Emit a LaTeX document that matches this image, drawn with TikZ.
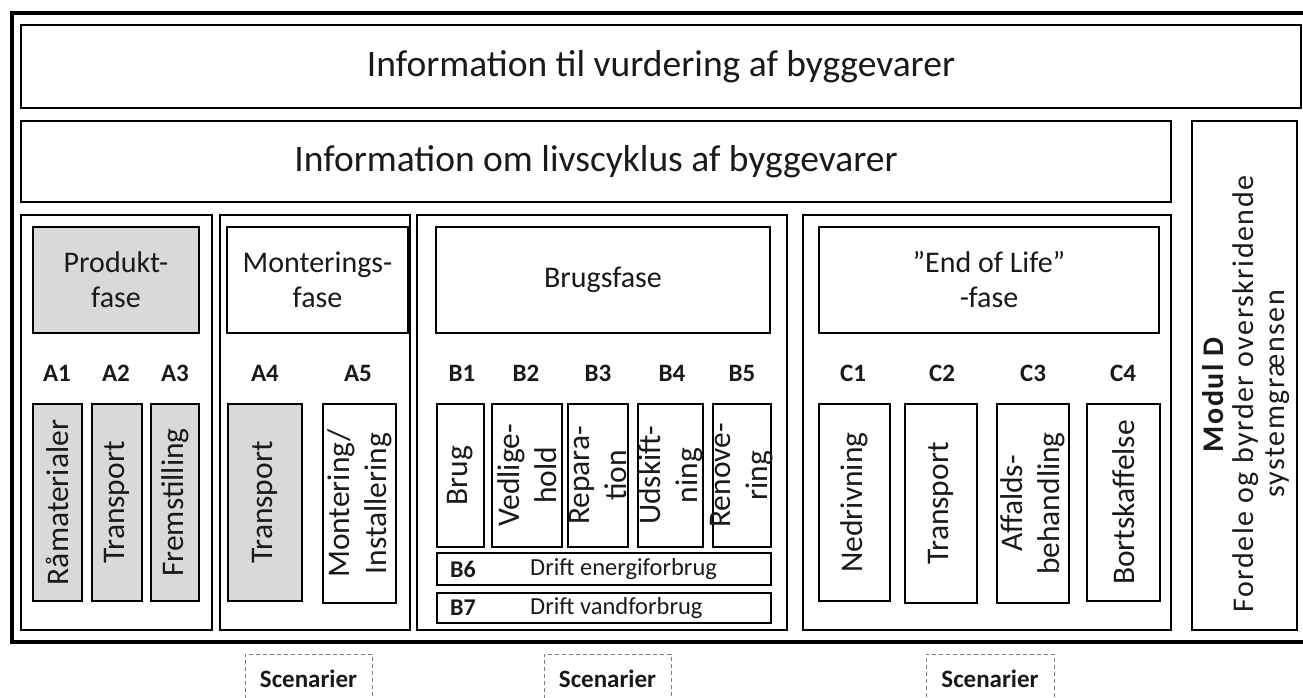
\documentclass[tikz,border=0pt]{standalone}
\usepackage{fontspec}
\setmainfont{Carlito}
\definecolor{boxgray}{HTML}{D9D9D9}
\definecolor{txt}{HTML}{1A1A1A}
\definecolor{dashgray}{HTML}{7F7F7F}
\newcommand{\mkbox}[6]{\node[#6, minimum width={(#4)-(#2)}, minimum height={(#5)-(#3)}] (#1) at ({((#2)+(#4))/2},{-((#3)+(#5))/2}) {};}
\tikzset{
  bx/.style={draw, line width=2pt, inner sep=0pt},
  gbx/.style={bx, fill=boxgray},
  frame/.style={draw, line width=4pt},
  titletxt/.style={font=\fontsize{37.5}{44}\selectfont, text=txt, inner sep=0pt},
  htxt/.style={font=\fontsize{30}{35}\selectfont, align=center, text=txt, inner sep=0pt},
  lbl/.style={font=\fontsize{25}{29}\selectfont\bfseries, text=txt, inner sep=0pt},
  vtxt/.style={rotate=90, align=center, font=\fontsize{31.5}{37}\selectfont, text=txt, inner sep=0pt},
  btxt/.style={font=\fontsize{24.5}{29}\selectfont, text=txt, inner sep=0pt, anchor=west},
  blbl/.style={font=\fontsize{24}{29}\selectfont\bfseries, text=txt, inner sep=0pt},
  dtxt/.style={rotate=90, align=center, font=\fontsize{30}{30.5}\selectfont\addfontfeature{LetterSpace=5}, text=txt, inner sep=0pt},
  scen/.style={draw=dashgray, line width=1pt, dash pattern=on 4pt off 3pt, inner sep=0pt},
  scentxt/.style={font=\fontsize{25}{29}\selectfont\bfseries, text=txt, inner sep=0pt}
}
\begin{document}
\begin{tikzpicture}[x=1pt,y=1pt]
\useasboundingbox (0,0) rectangle (1303,-698);
\clip (0,0) rectangle (1303,-698);
\fill[white] (0,0) rectangle (1303,-698);
% outer frame
\mkbox{outer}{12}{13}{1312}{642}{frame}
% title boxes
\mkbox{top}{21}{25}{1301}{108}{bx}
\node[titletxt] (toptxt) at (top) {Information til vurdering af byggevarer};
\mkbox{life}{21}{121}{1171}{202}{bx}
\node[titletxt] (lifetxt) at (life) {Information om livscyklus af byggevarer};
% Modul D
\mkbox{modd}{1192}{121}{1297}{630}{bx}
\node[dtxt] (moddtxt) at (1246,-394) {\textbf{Modul D}\\Fordele og byrder overskridende\\systemgrænsen};
% phase boxes
\mkbox{pa}{21}{215}{212}{630}{bx}
\mkbox{pm}{220}{215}{410}{630}{bx}
\mkbox{pb}{417}{215}{787}{630}{bx}
\mkbox{pc}{803}{215}{1171}{630}{bx}
% headers
\mkbox{hprod}{33}{227}{199}{333}{gbx}
\node[htxt] (hprodtxt) at (hprod) {Produkt-\\fase};
\mkbox{hmont}{227}{227}{408}{333}{bx}
\node[htxt] (hmonttxt) at (hmont) {Monterings-\\fase};
\mkbox{hbrug}{436}{227}{770}{333}{bx}
\node[htxt] (hbrugtxt) at (hbrug) {Brugsfase};
\mkbox{heol}{819}{227}{1159}{333}{bx}
\node[htxt] (heoltxt) at (heol) {”End of Life”\\-fase};
% module labels
\node[lbl] (la1) at (57,-373) {A1};
\node[lbl] (la2) at (116,-373) {A2};
\node[lbl] (la3) at (175,-373) {A3};
\node[lbl] (la4) at (265,-373) {A4};
\node[lbl] (la5) at (358,-373) {A5};
\node[lbl] (lb1) at (462,-373) {B1};
\node[lbl] (lb2) at (526,-373) {B2};
\node[lbl] (lb3) at (598,-373) {B3};
\node[lbl] (lb4) at (672,-373) {B4};
\node[lbl] (lb5) at (742,-373) {B5};
\node[lbl] (lc1) at (853,-373) {C1};
\node[lbl] (lc2) at (942,-373) {C2};
\node[lbl] (lc3) at (1033,-373) {C3};
\node[lbl] (lc4) at (1123,-373) {C4};
% A modules
\mkbox{a1}{33}{404}{82}{601}{gbx}
\node[vtxt] (a1t) at (a1) {Råmaterialer};
\mkbox{a2}{92}{404}{142}{601}{gbx}
\node[vtxt] (a2t) at (a2) {Transport};
\mkbox{a3}{151}{404}{199}{601}{gbx}
\node[vtxt] (a3t) at (a3) {Fremstilling};
\mkbox{a4}{228}{404}{302}{601}{gbx}
\node[vtxt] (a4t) at (a4) {Transport};
\mkbox{a5}{323}{404}{396}{603}{bx}
\node[vtxt] (a5t) at (a5) {Montering/\\Installering};
% B modules
\mkbox{b1}{437}{404}{484}{547}{bx}
\node[vtxt] (b1t) at (b1) {Brug};
\mkbox{b2}{492}{404}{562}{547}{bx}
\node[vtxt] (b2t) at (b2) {Vedlige-\\hold};
\mkbox{b3}{568}{404}{628}{547}{bx}
\node[vtxt] (b3t) at (b3) {Repara-\\tion};
\mkbox{b4}{638}{404}{703}{547}{bx}
\node[vtxt] (b4t) at (b4) {Udskift-\\ning};
\mkbox{b5}{713}{404}{771}{547}{bx}
\node[vtxt] (b5t) at (b5) {Renove-\\ring};
\mkbox{b6}{437}{553}{771}{585}{bx}
\node[blbl] (b6l) at (463,-569) {B6};
\node[btxt] (b6t) at (530,-569) {Drift energiforbrug};
\mkbox{b7}{437}{593}{771}{623}{bx}
\node[blbl] (b7l) at (463,-608) {B7};
\node[btxt] (b7t) at (530,-608) {Drift vandforbrug};
% C modules
\mkbox{c1}{819}{404}{890}{601}{bx}
\node[vtxt] (c1t) at (c1) {Nedrivning};
\mkbox{c2}{905}{404}{977}{603}{bx}
\node[vtxt] (c2t) at (c2) {Transport};
\mkbox{c3}{997}{404}{1069}{603}{bx}
\node[vtxt] (c3t) at (c3) {Affalds-\\behandling};
\mkbox{c4}{1087}{404}{1160}{601}{bx}
\node[vtxt] (c4t) at (c4) {Bortskaffelse};
% Scenarier
\mkbox{s1}{245}{654}{372}{730}{scen}
\node[scentxt] (s1t) at (308.5,-679) {Scenarier};
\mkbox{s2}{544}{654}{671}{730}{scen}
\node[scentxt] (s2t) at (607.5,-679) {Scenarier};
\mkbox{s3}{926}{654}{1054}{730}{scen}
\node[scentxt] (s3t) at (990,-679) {Scenarier};
\end{tikzpicture}
\end{document}
